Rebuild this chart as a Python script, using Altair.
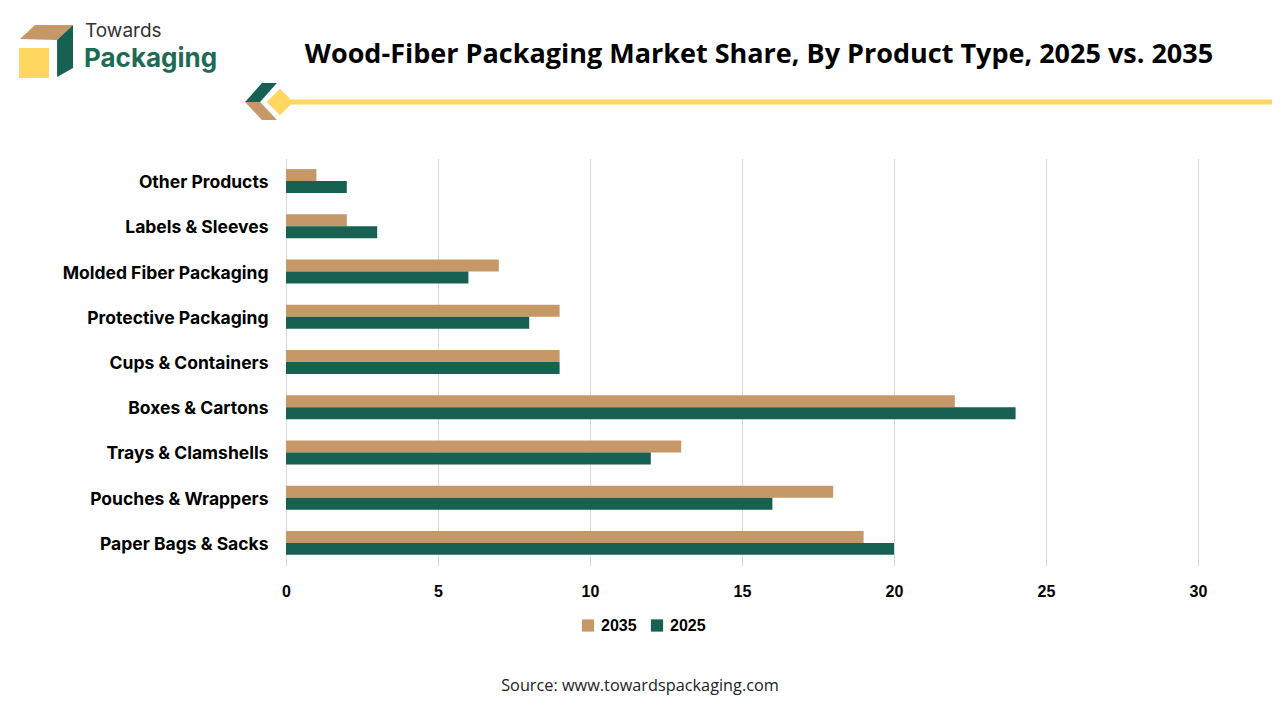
import altair as alt
import pandas as pd

categories = ["Other Products", "Labels & Sleeves", "Molded Fiber Packaging",
              "Protective Packaging", "Cups & Containers", "Boxes & Cartons",
              "Trays & Clamshells", "Pouches & Wrappers", "Paper Bags & Sacks"]
v2035 = [1, 2, 7, 9, 9, 22, 13, 18, 19]
v2025 = [2, 3, 6, 8, 9, 24, 12, 16, 20]
years = ["2035", "2025"]
x_ticks = [0, 5, 10, 15, 20, 25, 30]

title_text = "Wood-Fiber Packaging Market Share, By Product Type, 2025 vs. 2035"
source_text = "Source: www.towardspackaging.com"
brand_top = "Towards"
brand_bottom = "Packaging"

TAN = "#C69868"
GREEN = "#176152"
YELLOW = "#FFD75E"

rows = []
for c, a, b in zip(categories, v2035, v2025):
    rows.append({"Product": c, "Year": "2035", "Share": a})
    rows.append({"Product": c, "Year": "2025", "Share": b})
df = pd.DataFrame(rows)

W, H = 912, 407

bars = alt.Chart(df).mark_bar().encode(
    x=alt.X("Share:Q", scale=alt.Scale(domain=[0, 30], nice=False),
            axis=alt.Axis(values=x_ticks, title=None, grid=True, gridColor="#D9D9D9",
                          domain=False, ticks=False, labelFont="Liberation Sans",
                          labelFontWeight="bold", labelFontSize=16, labelColor="#000000",
                          labelPadding=18, labelFlush=False)),
    y=alt.Y("Product:N", sort=categories,
            scale=alt.Scale(paddingInner=0.47, paddingOuter=0.235),
            axis=alt.Axis(title=None, domain=False, ticks=False, labelFont="Inter",
                          labelFontWeight="bold", labelFontSize=17.5, labelColor="#000000",
                          labelPadding=18, labelLimit=0, labelOffset=2)),
    yOffset=alt.YOffset("Year:N", sort=years, scale=alt.Scale(paddingInner=0, paddingOuter=0)),
    color=alt.Color("Year:N", sort=years,
                    scale=alt.Scale(domain=years, range=[TAN, GREEN]),
                    legend=alt.Legend(title=None, orient="none", legendX=294, legendY=459,
                                      direction="horizontal", symbolType="square",
                                      symbolSize=150, symbolStrokeWidth=0,
                                      labelFont="Liberation Sans", labelFontWeight="bold",
                                      labelFontSize=16, labelColor="#000000",
                                      columnPadding=12, labelOffset=5, padding=0)),
)

one = pd.DataFrame({"k": [0]})

title = alt.Chart(pd.DataFrame({"t": [title_text]})).mark_text(
    font="Open Sans", fontWeight="bold", fontSize=27, color="#000000",
    align="center", baseline="middle").encode(
    text="t:N", x=alt.value(473), y=alt.value(-104))

source = alt.Chart(pd.DataFrame({"t": [source_text]})).mark_text(
    font="Open Sans", fontSize=16.3, color="#222222",
    align="center", baseline="middle").encode(
    text="t:N", x=alt.value(354), y=alt.value(527.5))

towards = alt.Chart(pd.DataFrame({"t": [brand_top]})).mark_text(
    font="Inter", fontSize=19, color="#333333",
    align="left", baseline="middle").encode(
    text="t:N", x=alt.value(-201), y=alt.value(-128))

packaging = alt.Chart(pd.DataFrame({"t": [brand_bottom]})).mark_text(
    font="Inter", fontWeight="bold", fontSize=26, color="#1E6B55",
    align="left", baseline="middle").encode(
    text="t:N", x=alt.value(-202), y=alt.value(-100))

tan_top = "M -0.96 -0.46 L -0.41 -0.98 L 1 -0.98 L 0.41 -0.43 Z"
green_side = "M 0.41 -0.43 L 1 -0.98 L 1 0.61 L 0.41 0.94 Z"

logo_tan = alt.Chart(one).mark_point(shape=tan_top, filled=True, opacity=1,
                                     color=TAN, size=2916, strokeWidth=0).encode(
    x=alt.value(-240), y=alt.value(-107))
logo_green = alt.Chart(one).mark_point(shape=green_side, filled=True, opacity=1,
                                       color=GREEN, size=2916, strokeWidth=0).encode(
    x=alt.value(-240), y=alt.value(-107))
logo_yellow = alt.Chart(one).mark_rect(color=YELLOW).encode(
    x=alt.value(-267), x2=alt.value(-237), y=alt.value(-110.5), y2=alt.value(-80.5))

chev_green = "M -0.86 0.03 L 0.05 -1 L 0.86 -1 L -0.05 0.03 Z"
chev_tan = "M -0.86 0.03 L -0.05 0.03 L 0.86 1 L 0.05 1 Z"
deco_green = alt.Chart(one).mark_point(shape=chev_green, filled=True, opacity=1,
                                       color=GREEN, size=1369, strokeWidth=0).encode(
    x=alt.value(-25), y=alt.value(-57))
deco_tan = alt.Chart(one).mark_point(shape=chev_tan, filled=True, opacity=1,
                                     color=TAN, size=1369, strokeWidth=0).encode(
    x=alt.value(-25), y=alt.value(-57))
deco_line = alt.Chart(one).mark_rule(color=YELLOW, strokeWidth=5).encode(
    x=alt.value(5), x2=alt.value(990), y=alt.value(-56.5))
deco_diamond = alt.Chart(one).mark_point(shape="diamond", filled=True, opacity=1,
                                         color=YELLOW, size=700, strokeWidth=0).encode(
    x=alt.value(-6), y=alt.value(-56.5))

chart = alt.layer(
    bars, title, source, towards, packaging,
    logo_tan, logo_green, logo_yellow,
    deco_line, deco_green, deco_tan, deco_diamond,
).properties(
    width=W, height=H,
    background="white",
    autosize=alt.AutoSizeParams(type="none"),
    padding={"left": 278, "top": 150.5, "right": 74, "bottom": 145},
).configure_view(strokeWidth=0, stroke="transparent")

chart.save("out.html", embed_options={"renderer": "svg", "actions": False})
